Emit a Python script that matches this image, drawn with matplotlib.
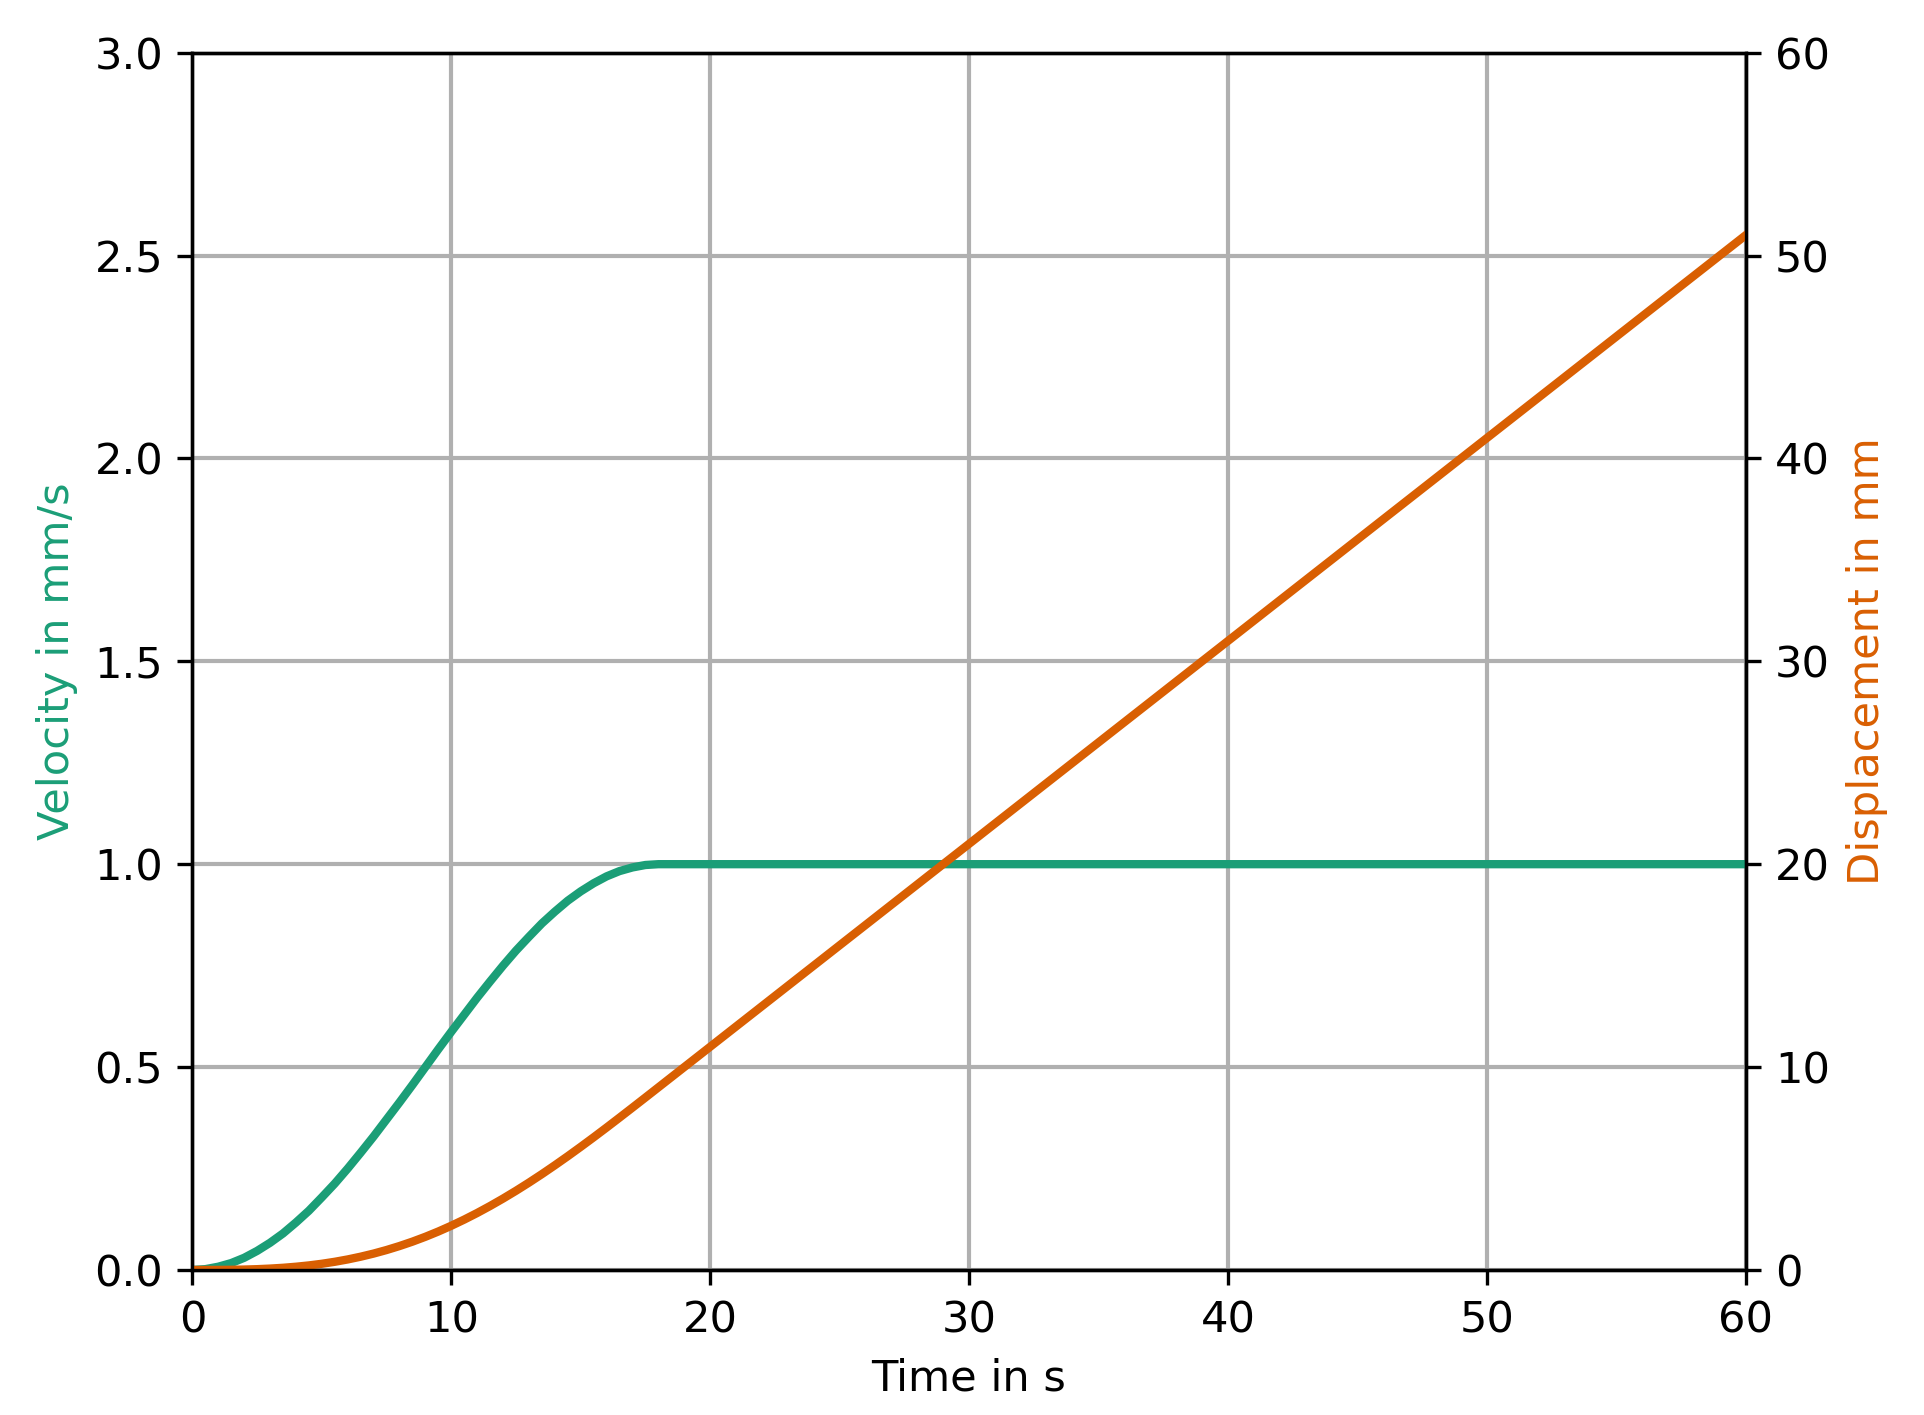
import matplotlib
matplotlib.use("Agg")
import matplotlib.pyplot as plt

# values (half-second steps through the ramp)
time_s = [0, 0.5, 1, 1.5, 2, 2.5, 3, 3.5, 4, 4.5, 5, 5.5, 6, 6.5, 7, 7.5, 8, 8.5,
          9, 9.5, 10, 10.5, 11, 11.5, 12, 12.5, 13, 13.5, 14, 14.5, 15, 15.5,
          16, 16.5, 17, 17.5, 18, 60]
velocity = [0.0, 0.002, 0.008, 0.017, 0.030, 0.047, 0.067, 0.090, 0.117, 0.146,
            0.179, 0.213, 0.250, 0.289, 0.329, 0.371, 0.413, 0.456,
            0.500, 0.544, 0.587, 0.629, 0.671, 0.711, 0.750, 0.787, 0.821, 0.854,
            0.883, 0.910, 0.933, 0.953, 0.970, 0.983, 0.992, 0.998, 1.0, 1.0]
displacement = [0.0, 0.0003, 0.003, 0.009, 0.020, 0.039, 0.068, 0.107, 0.159, 0.224,
                0.305, 0.403, 0.519, 0.654, 0.808, 0.983, 1.179, 1.396,
                1.635, 1.896, 2.179, 2.483, 2.808, 3.154, 3.519, 3.903, 4.305, 4.724,
                5.159, 5.607, 6.068, 6.539, 7.020, 7.509, 8.003, 8.500, 9.0, 51.0]

c_vel = "#1b9e77"
c_disp = "#d95f02"

plt.rcParams["font.size"] = 10.4

fig = plt.figure(figsize=(1924 / 300, 1415 / 300), dpi=300)
ax1 = fig.add_axes([0.1, 0.1025, 0.8073, 0.8603])
ax1.plot(time_s, velocity, color=c_vel, lw=2)
ax1.set_xlim(0, 60)
ax1.set_ylim(0, 3)
ax1.set_xlabel("Time in s")
ax1.set_ylabel("Velocity in mm/s", color=c_vel)
ax1.grid(True, color="#b0b0b0", lw=1)
ax1.set_axisbelow(True)

ax2 = ax1.twinx()
ax2.plot(time_s, displacement, color=c_disp, lw=2)
ax2.set_ylim(0, 60)
ax2.set_ylabel("Displacement in mm", color=c_disp)

fig.savefig("out.png", dpi=300)
